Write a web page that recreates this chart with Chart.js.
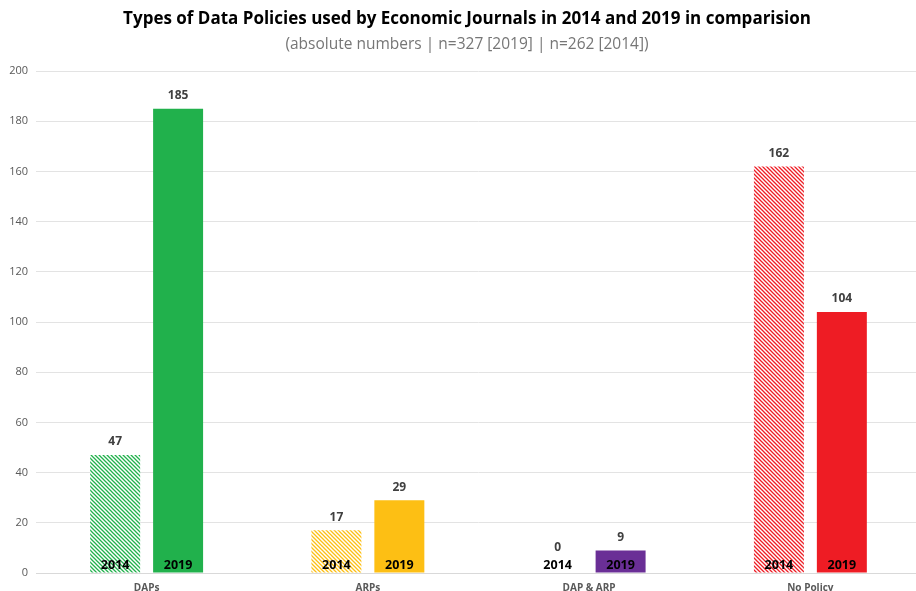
<!DOCTYPE html>
<html>
<head>
<meta charset="utf-8">
<script src="https://cdn.jsdelivr.net/npm/chart.js@4.4.1/dist/chart.umd.min.js"></script>
<style>
  html, body { margin: 0; padding: 0; background: #ffffff; overflow: hidden; }
  #wrap { width: 921px; height: 595px; }
</style>
</head>
<body>
<div id="wrap"><canvas id="policyChart"></canvas></div>
<script>
// ---------------------------
// Data
// ---------------------------
const categories = ["DAPs", "ARPs", "DAP & ARP", "No Policy"];
const values2014 = [47, 17, 0, 162];
const values2019 = [185, 29, 9, 104];
const yTicks = [0, 20, 40, 60, 80, 100, 120, 140, 160, 180, 200];
const seriesNames = ["2014", "2019"];

const titleText = "Types of Data Policies used by Economic Journals in 2014 and 2019 in comparision";
const subtitleText = "(absolute numbers | n=327 [2019] | n=262 [2014])";

const baseColors = ["#21B14C", "#FDBF14", "#6A2F96", "#EE1C24"];

// hatched fill for 2014 bars (colour stripes on white)
function makeHatch(color) {
  const c = document.createElement("canvas");
  c.width = 4;
  c.height = 4;
  const g = c.getContext("2d");
  g.fillStyle = "#ffffff";
  g.fillRect(0, 0, 4, 4);
  g.strokeStyle = color;
  g.lineWidth = 1.3;
  g.beginPath();
  g.moveTo(-1, -1); g.lineTo(5, 5);
  g.moveTo(-1, 3); g.lineTo(1, 5);
  g.moveTo(3, -1); g.lineTo(5, 1);
  g.stroke();
  return g.createPattern(c, "repeat");
}

// title + subtitle, centred on the visible page rather than the canvas
const headline = {
  id: "headline",
  afterDraw(chart) {
    const ctx = chart.ctx;
    ctx.save();
    ctx.textAlign = "center";
    ctx.textBaseline = "middle";
    ctx.fillStyle = "#000000";
    ctx.font = "bold 17px 'Open Sans', sans-serif";
    ctx.fillText(titleText, 467, 19);
    ctx.fillStyle = "#767676";
    ctx.font = "15.5px 'Open Sans', sans-serif";
    ctx.fillText(subtitleText, 467, 45);
    ctx.restore();
  },
};

// draws the value above each bar and the year at its foot
const barLabels = {
  id: "barLabels",
  afterDatasetsDraw(chart) {
    const ctx = chart.ctx;
    const baseY = chart.scales.y.getPixelForValue(0);
    ctx.save();
    ctx.textAlign = "center";
    chart.data.datasets.forEach((ds, di) => {
      const meta = chart.getDatasetMeta(di);
      meta.data.forEach((bar, i) => {
        ctx.font = "bold 12px 'Open Sans', sans-serif";
        ctx.fillStyle = "#404040";
        ctx.textBaseline = "bottom";
        const topY = ds.data[i] === 0 ? bar.y - 19 : bar.y - 7;
        ctx.fillText(String(ds.data[i]), bar.x, topY);
        ctx.font = "bold 12.5px 'Open Sans', sans-serif";
        ctx.fillStyle = "#000000";
        ctx.textBaseline = "alphabetic";
        ctx.fillText(seriesNames[di], bar.x, baseY - 4);
      });
    });
    ctx.restore();
  },
};

document.addEventListener("DOMContentLoaded", function () {
  const el = document.getElementById("policyChart");
  const ctx = el.getContext("2d");

  new Chart(ctx, {
    type: "bar",
    data: {
      labels: categories,
      datasets: [
        {
          label: seriesNames[0],
          data: values2014,
          backgroundColor: baseColors.map(makeHatch),
          borderWidth: 0,
        },
        {
          label: seriesNames[1],
          data: values2019,
          backgroundColor: baseColors,
          borderWidth: 0,
        },
      ],
    },
    options: {
      responsive: true,
      maintainAspectRatio: false,
      animation: false,
      categoryPercentage: 0.569,
      barPercentage: 0.794,
      layout: { padding: { top: 71, right: 0, left: 4, bottom: 0 } },
      plugins: {
        legend: { display: false },
        tooltip: { enabled: false },
      },
      scales: {
        x: {
          grid: { display: false },
          border: { color: "#d9d9d9" },
          ticks: {
            color: "#595959",
            font: { family: "'Open Sans', sans-serif", size: 10, weight: "bold" },
            padding: 1,
          },
        },
        y: {
          min: 0,
          max: 200,
          afterBuildTicks(axis) {
            axis.ticks = yTicks.map(v => ({ value: v }));
          },
          afterFit(axis) { axis.width = 32; },
          grid: { color: "#e3e3e3", drawTicks: false },
          border: { display: false },
          ticks: {
            color: "#595959",
            font: { family: "'Open Sans', sans-serif", size: 11 },
            padding: 8,
          },
        },
      },
    },
    plugins: [barLabels, headline],
  });
});
</script>
</body>
</html>
